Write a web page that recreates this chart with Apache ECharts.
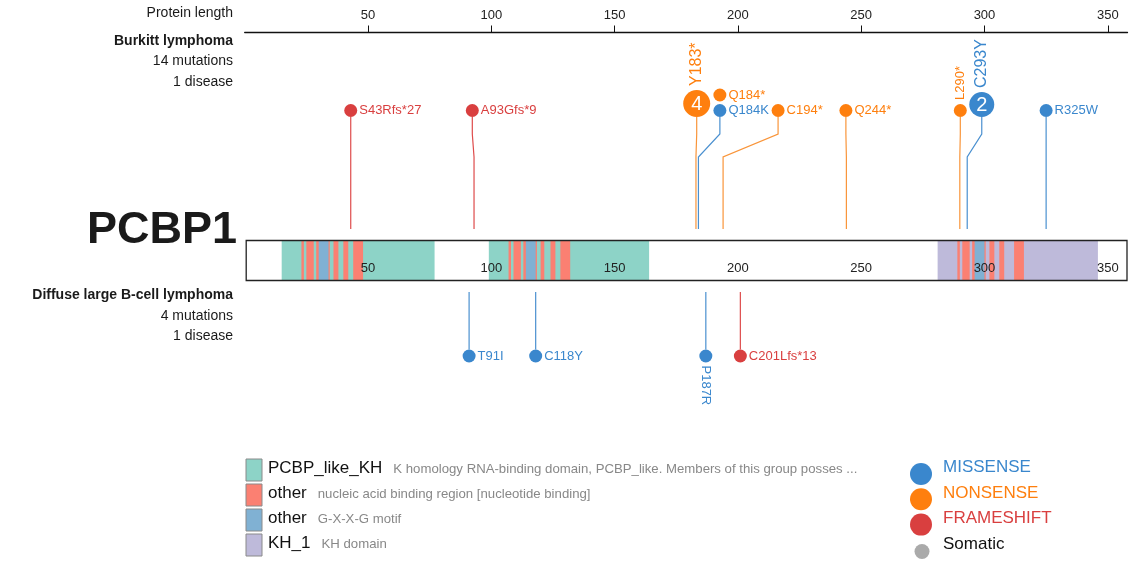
<!DOCTYPE html>
<html><head><meta charset="utf-8">
<script src="https://cdn.jsdelivr.net/npm/echarts@6/dist/echarts.min.js"></script>
<style>html,body{margin:0;padding:0;background:#fff}#c{width:1131px;height:562px}</style>
</head><body><div id="c"></div>
<script>
// ---------------- data ----------------
const proteinName = 'PCBP1';
const axisMax = 358;
const axisInterval = 50;
const barTickLabels = [50, 100, 150, 200, 250, 300, 350];

// domain types (legend)
const domainTypeNames = ['PCBP_like_KH', 'other', 'other', 'KH_1'];
const domainTypeDescs = [
  'K homology RNA-binding domain, PCBP_like. Members of this group posses ...',
  'nucleic acid binding region [nucleotide binding]',
  'G-X-X-G motif',
  'KH domain'
];
// domain segments (drawn in order)
const domainStarts = [15, 99, 281,
  23, 25, 29, 36, 40, 44,
  107, 109, 113, 120, 124, 128,
  289, 291, 295, 302, 306, 312,
  30, 114, 296];
const domainEnds = [77, 164, 346,
  24, 28, 34.5, 38, 42, 48,
  108, 112, 118.5, 121.5, 126, 132,
  290, 294, 300.5, 304, 308, 316,
  34, 118, 300];
const domainKinds = [0, 0, 3,
  1, 1, 1, 1, 1, 1,
  1, 1, 1, 1, 1, 1,
  1, 1, 1, 1, 1, 1,
  2, 2, 2];

// mutation types
const mutationTypeNames = ['MISSENSE', 'NONSENSE', 'FRAMESHIFT'];

// Burkitt lymphoma track
const burkittNames = ['S43Rfs*27', 'A93Gfs*9', 'Y183*', 'Q184*', 'Q184K', 'C194*', 'Q244*', 'L290*', 'C293Y', 'R325W'];
const burkittPositions = [43, 93, 183, 184, 184, 194, 244, 290, 293, 325];
const burkittTypes = [2, 2, 1, 1, 0, 1, 1, 1, 0, 0];
const burkittCounts = [1, 1, 4, 1, 1, 1, 1, 1, 2, 1];
// DLBCL track
const dlbclNames = ['T91I', 'C118Y', 'P187R', 'C201Lfs*13'];
const dlbclPositions = [91, 118, 187, 201];
const dlbclTypes = [0, 0, 0, 2];
const dlbclCounts = [1, 1, 1, 1];

// ---------------- layout / style ----------------
const burkittDisplayPos = [43, 92.3, 183.3, 192.7, 192.7, 216.3, 243.8, 290.2, 298.9, 325];
const burkittStack = [0, 0, 0, 1, 0, 0, 0, 0, 0, 0];
const burkittLabelMode = ['right', 'right', 'up', 'right', 'right', 'right', 'right', 'up', 'up', 'right'];
const dlbclDisplayPos = [91, 118, 187, 201];
const dlbclLabelMode = ['right', 'right', 'down', 'right'];

const FONT = "'Liberation Sans', Arial, Helvetica, sans-serif";
const domainColors = ['#8dd3c7', '#fb8072', '#80b1d3', '#bebada'];
const typeColors = ['#3a87cd', '#fe7f0e', '#d93f3f'];
const lineColors = ['#4a90d0', '#f9953a', '#de4b4b'];

const GRID_LEFT = 244.7, GRID_RIGHT = 3.5, GRID_TOP = 32.5;
const BAR_TOP = 240, BAR_BOTTOM = 281;
const TOP_BASE = 117, BEND1 = 134, BEND2 = 157, TOP_END = 229, LEVEL_GAP = 15.5;
const BOT_START = 292, BOT_CY = 356;

function radiusFor(c) { return c === 1 ? 6.5 : 11.5 + 0.5 * c; }
function names(track) { return track === 'burkitt' ? burkittNames : dlbclNames; }

function mutationSeries(name, positions, disp, types, counts, stack, labelMode, dir) {
  const labels = names(name);
  return {
    type: 'custom', name: name, coordinateSystem: 'cartesian2d', clip: false, silent: true, z: 5,
    data: positions.map((p, i) => [p, i]),
    renderItem: function (params, api) {
      const i = api.value(1);
      const px = api.coord([positions[i], 0])[0];
      const dx = api.coord([disp[i], 0])[0];
      const t = types[i];
      const col = typeColors[t];
      const r = radiusFor(counts[i]);
      const lvl = stack ? stack[i] : 0;
      const children = [];
      let cy;
      if (dir === 'up') {
        cy = TOP_BASE - r - lvl * LEVEL_GAP;
        if (lvl === 0) {
          children.push({ type: 'polyline', shape: { points: [[dx, TOP_BASE], [dx, BEND1], [px, BEND2], [px, TOP_END]] },
            style: { stroke: lineColors[t], lineWidth: 1.2, fill: null } });
        }
      } else {
        cy = BOT_CY;
        children.push({ type: 'line', shape: { x1: px, y1: BOT_START, x2: dx, y2: cy - r },
          style: { stroke: lineColors[t], lineWidth: 1.2 } });
      }
      children.push({ type: 'circle', shape: { cx: dx, cy: cy, r: r }, style: { fill: col } });
      if (counts[i] > 1) {
        children.push({ type: 'text', x: dx, y: cy + 1, style: { text: String(counts[i]), fill: '#fff',
          font: '20px ' + FONT, align: 'center', verticalAlign: 'middle', textAlign: 'center', textVerticalAlign: 'middle' } });
      }
      const mode = labelMode[i];
      const fs = counts[i] > 1 ? 16 : 13;
      const st = { text: labels[i], fill: col, font: fs + 'px ' + FONT, align: 'left', verticalAlign: 'middle', textAlign: 'left', textVerticalAlign: 'middle' };
      if (mode === 'right') {
        children.push({ type: 'text', x: dx + r + 2, y: cy, style: st });
      } else if (mode === 'up') {
        children.push({ type: 'text', x: dx, y: cy - r - 4, rotation: Math.PI / 2, style: st });
      } else {
        children.push({ type: 'text', x: dx, y: cy + r + 3, rotation: -Math.PI / 2, style: st });
      }
      return { type: 'group', children: children };
    }
  };
}

const sum = a => a.reduce((s, v) => s + v, 0);

const series = [
  {
    type: 'custom', coordinateSystem: 'cartesian2d', clip: false, silent: true, z: 1,
    data: [[0, 0]],
    renderItem: function (params, api) {
      const cs = params.coordSys;
      return { type: 'rect', shape: { x: cs.x + 1, y: BAR_TOP, width: cs.width - 1, height: BAR_BOTTOM - BAR_TOP },
        style: { fill: '#fff', stroke: 'none' } };
    }
  },
  {
    type: 'custom', coordinateSystem: 'cartesian2d', clip: false, silent: true, z: 2,
    data: domainStarts.map((s, i) => [s, i]),
    renderItem: function (params, api) {
      const i = api.value(1);
      const x0 = api.coord([domainStarts[i], 0])[0];
      const x1 = api.coord([domainEnds[i], 0])[0];
      return { type: 'rect', shape: { x: x0, y: BAR_TOP + 1, width: x1 - x0, height: BAR_BOTTOM - BAR_TOP - 2 },
        style: { fill: domainColors[domainKinds[i]] } };
    }
  },
  {
    type: 'custom', coordinateSystem: 'cartesian2d', clip: false, silent: true, z: 3,
    data: [[0, 0]],
    renderItem: function (params, api) {
      const cs = params.coordSys;
      return { type: 'rect', shape: { x: cs.x + 1.5, y: BAR_TOP + 0.5, width: cs.width - 2, height: BAR_BOTTOM - BAR_TOP - 1 },
        style: { fill: null, stroke: '#222', lineWidth: 1.3 } };
    }
  },
  {
    type: 'custom', coordinateSystem: 'cartesian2d', clip: false, silent: true, z: 4,
    data: barTickLabels.map((v, i) => [v, i]),
    renderItem: function (params, api) {
      const v = barTickLabels[api.value(1)];
      const x = api.coord([v, 0])[0];
      return { type: 'text', x: x, y: 268, style: { text: String(v), fill: '#222', font: '13px ' + FONT,
        align: 'center', verticalAlign: 'middle', textAlign: 'center', textVerticalAlign: 'middle' } };
    }
  },
  mutationSeries('burkitt', burkittPositions, burkittDisplayPos, burkittTypes, burkittCounts, burkittStack, burkittLabelMode, 'up'),
  mutationSeries('dlbcl', dlbclPositions, dlbclDisplayPos, dlbclTypes, dlbclCounts, null, dlbclLabelMode, 'down')
];

const mctx = document.createElement('canvas').getContext('2d');
function tw(text, font) { mctx.font = font; return mctx.measureText(text).width; }

const graphics = [];
function leftText(text, y, bold, size, x) {
  graphics.push({ type: 'text', x: x || 233, y: y, silent: true,
    style: { text: text, fill: '#1a1a1a', font: (bold ? 'bold ' : '') + (size || 14) + 'px ' + FONT,
      align: 'right', verticalAlign: 'middle', textAlign: 'right', textVerticalAlign: 'middle' } });
}
leftText('Protein length', 13, false);
leftText('Burkitt lymphoma', 41, true);
leftText(sum(burkittCounts) + ' mutations', 61.5, false);
leftText('1 disease', 82, false);
leftText(proteinName, 231, true, 45, 237);
leftText('Diffuse large B-cell lymphoma', 295, true);
leftText(sum(dlbclCounts) + ' mutations', 316, false);
leftText('1 disease', 336.5, false);

domainTypeNames.forEach((n, i) => {
  const cy = 470 + i * 25;
  graphics.push({ type: 'rect', silent: true, shape: { x: 246, y: cy - 11, width: 16, height: 22 },
    style: { fill: domainColors[i], stroke: '#8a8a8a', lineWidth: 1 } });
  const f1 = '17px ' + FONT;
  graphics.push({ type: 'text', silent: true, x: 268, y: cy - 2,
    style: { text: n, fill: '#111', font: f1, align: 'left', verticalAlign: 'middle', textAlign: 'left', textVerticalAlign: 'middle' } });
  graphics.push({ type: 'text', silent: true, x: 268 + tw(n, f1) + 11, y: cy - 1,
    style: { text: domainTypeDescs[i], fill: '#888', font: '13.2px ' + FONT, align: 'left', verticalAlign: 'middle', textAlign: 'left', textVerticalAlign: 'middle' } });
});
mutationTypeNames.forEach((n, i) => {
  graphics.push({ type: 'circle', silent: true, shape: { cx: 921, cy: 474 + i * 25.3, r: 11 }, style: { fill: typeColors[i] } });
  graphics.push({ type: 'text', silent: true, x: 943, y: 467.5 + i * 25.5,
    style: { text: n, fill: typeColors[i], font: '17px ' + FONT, align: 'left', verticalAlign: 'middle', textAlign: 'left', textVerticalAlign: 'middle' } });
});
graphics.push({ type: 'circle', silent: true, shape: { cx: 922, cy: 551.5, r: 7.5 }, style: { fill: '#aaaaaa' } });
graphics.push({ type: 'text', silent: true, x: 943, y: 544.5,
  style: { text: 'Somatic', fill: '#111', font: '17px ' + FONT, align: 'left', verticalAlign: 'middle', textAlign: 'left', textVerticalAlign: 'middle' } });

const chart = echarts.init(document.getElementById('c'), null, { renderer: 'canvas' });
chart.setOption({
  animation: false,
  backgroundColor: '#fff',
  grid: { left: GRID_LEFT, right: GRID_RIGHT, top: GRID_TOP, bottom: 0, containLabel: false },
  xAxis: {
    type: 'value', position: 'top', min: 0, max: axisMax, interval: axisInterval,
    axisLine: { show: true, onZero: false, lineStyle: { color: '#111', width: 1.3 } },
    axisTick: { show: true, inside: false, length: 7, lineStyle: { color: '#111', width: 1 } },
    axisLabel: { show: true, showMinLabel: false, showMaxLabel: false, color: '#222', fontSize: 13, fontFamily: FONT, margin: 11 },
    splitLine: { show: false }
  },
  yAxis: { type: 'value', min: 0, max: 1, show: false },
  series: series,
  graphic: { elements: graphics }
});
</script>
</body></html>
